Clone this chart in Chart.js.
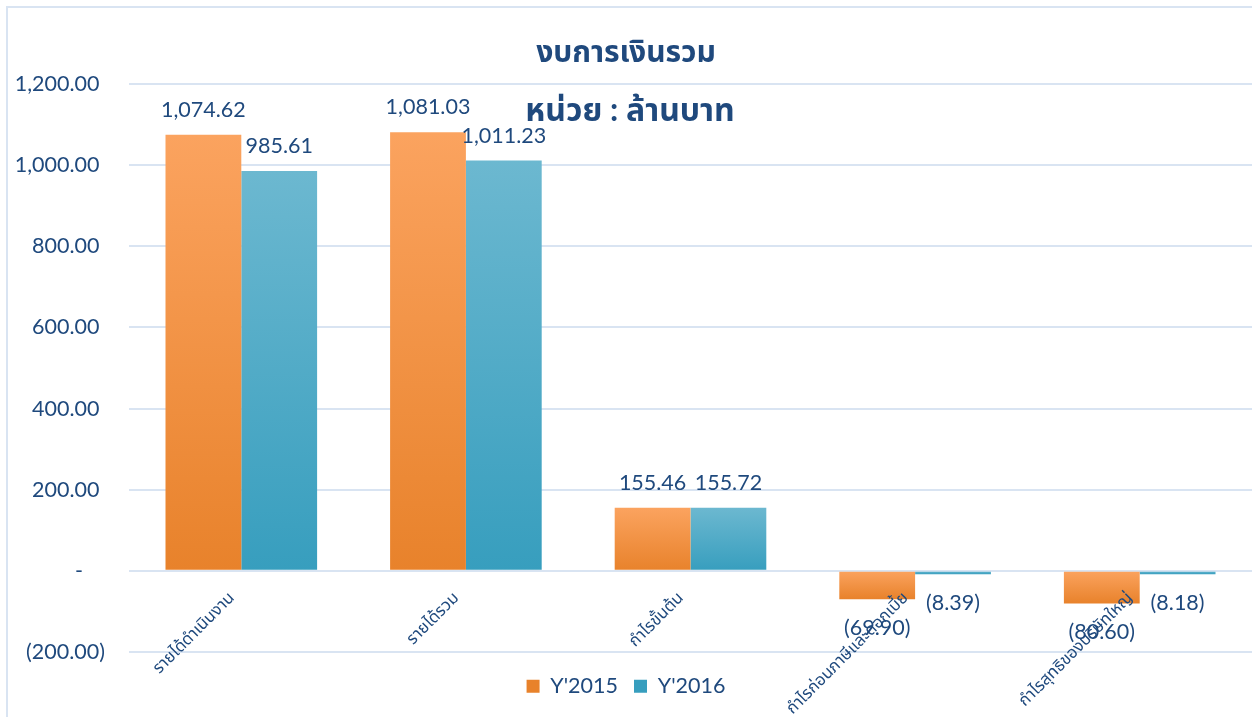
<!DOCTYPE html>
<html>
<head>
<meta charset="utf-8">
<script src="https://cdn.jsdelivr.net/npm/chart.js@4/dist/chart.umd.min.js"></script>
<style>
  html, body { margin: 0; padding: 0; background: #ffffff; overflow: hidden; }
  #wrap { position: relative; width: 1252px; height: 717px; }
</style>
</head>
<body>
<div id="wrap"><canvas id="financeChart"></canvas></div>
<script>
// Chart data (ล้านบาท)
const categories = ['รายได้ดำเนินงาน', 'รายได้รวม', 'กำไรขั้นต้น', 'กำไรก่อนภาษีและดอกเบี้ย', 'กำไรสุทธิของบริษัทใหญ่'];
const seriesNames = ["Y'2015", "Y'2016"];
const values2015 = [1074.62, 1081.03, 155.46, -69.90, -80.60];
const values2016 = [985.61, 1011.23, 155.72, -8.39, -8.18];
const yTicks = [-200, 0, 200, 400, 600, 800, 1000, 1200];

const TEXT = '#1f497d';
const GRID = '#d9e4f2';
const FONT = "Lato, 'Noto Sans Thai', 'Noto Sans', sans-serif";

function fmtNum(v) {
    return Math.abs(v).toLocaleString('en-US', { minimumFractionDigits: 2, maximumFractionDigits: 2 });
}

// accounting style: (x) for negatives
function fmtAccounting(v) {
    if (v < 0) return '(' + fmtNum(v) + ')';
    return fmtNum(v);
}

// vertical gradient from the zero line to the end of each bar
function barGradient(light, dark, mid) {
    return function (ctx) {
        const chart = ctx.chart;
        if (!chart.chartArea || ctx.type !== 'data') return mid;
        const y = chart.scales.y;
        const p0 = y.getPixelForValue(0);
        const p1 = y.getPixelForValue(ctx.raw);
        const top = Math.min(p0, p1);
        const bottom = Math.max(p0, p1) + 0.01;
        const g = chart.ctx.createLinearGradient(0, top, 0, bottom);
        g.addColorStop(0, light);
        g.addColorStop(1, dark);
        return g;
    };
}

// frame lines on the left and top like the original sheet
const framePlugin = {
    id: 'frame',
    beforeDraw(chart) {
        const c = chart.ctx;
        c.save();
        c.strokeStyle = GRID;
        c.lineWidth = 2;
        c.beginPath();
        c.moveTo(7, chart.height);
        c.lineTo(7, 7);
        c.lineTo(chart.width, 7);
        c.stroke();
        c.restore();
    }
};

// value labels above / below bars
const valueLabels = {
    id: 'valueLabels',
    afterDatasetsDraw(chart) {
        const c = chart.ctx;
        c.save();
        c.font = '21.5px ' + FONT;
        c.fillStyle = TEXT;
        c.textAlign = 'center';
        c.textBaseline = 'middle';
        chart.data.datasets.forEach((ds, i) => {
            chart.getDatasetMeta(i).data.forEach((bar, j) => {
                const v = ds.data[j];
                const y = v >= 0 ? bar.y - 25 : bar.y + 29;
                c.fillText(fmtAccounting(v), bar.x, y);
            });
        });
        c.restore();
    }
};

// category labels sit along the zero line, rotated 45°
const categoryLabels = {
    id: 'categoryLabels',
    afterDraw(chart) {
        const c = chart.ctx;
        const x = chart.scales.x;
        const zero = chart.scales.y.getPixelForValue(0);
        c.save();
        c.font = '16.5px ' + FONT;
        c.fillStyle = TEXT;
        c.textAlign = 'right';
        c.textBaseline = 'middle';
        categories.forEach((label, i) => {
            c.save();
            c.translate(x.getPixelForValue(i) - 10, zero + 24);
            c.rotate(-Math.PI / 4);
            c.fillText(label, 0, 0);
            c.restore();
        });
        c.restore();
    }
};

// unit subtitle drawn inside the top of the plot area
const unitLabel = {
    id: 'unitLabel',
    afterDraw(chart) {
        const c = chart.ctx;
        c.save();
        c.font = 'bold 32px ' + FONT;
        c.fillStyle = TEXT;
        c.textAlign = 'center';
        c.textBaseline = 'middle';
        c.fillText('หน่วย : ล้านบาท', chart.width / 2 + 4, chart.chartArea.top + 27);
        c.restore();
    }
};

new Chart(document.getElementById('financeChart'), {
    type: 'bar',
    data: {
        labels: categories,
        datasets: [
            {
                label: seriesNames[0],
                data: values2015,
                backgroundColor: barGradient('#fba35f', '#e8822b', '#f7953f'),
                borderWidth: 0,
                barPercentage: 1,
                categoryPercentage: 0.675
            },
            {
                label: seriesNames[1],
                data: values2016,
                backgroundColor: barGradient('#6cb8d0', '#379ebe', '#4fabc7'),
                borderWidth: 0,
                barPercentage: 1,
                categoryPercentage: 0.675
            }
        ]
    },
    options: {
        responsive: true,
        maintainAspectRatio: false,
        animation: false,
        layout: { padding: { top: 0, bottom: 10, left: 0, right: 0 } },
        plugins: {
            title: {
                display: true,
                text: 'งบการเงินรวม',
                color: TEXT,
                font: { family: FONT, size: 30, weight: 'bold' },
                padding: { top: 34, bottom: 14 }
            },
            legend: {
                display: true,
                position: 'bottom',
                labels: {
                    color: TEXT,
                    font: { family: FONT, size: 21.5 },
                    boxWidth: 13,
                    boxHeight: 13,
                    padding: 16
                }
            },
            tooltip: { enabled: false }
        },
        scales: {
            x: {
                grid: { display: false },
                border: { display: false },
                ticks: { display: false },
                afterFit(scale) { scale.height = 7.5; }
            },
            y: {
                min: -200,
                max: 1200,
                afterBuildTicks(scale) {
                    scale.ticks = yTicks.map(v => ({ value: v }));
                },
                afterFit(scale) { scale.width = 129; },
                grid: { color: GRID, lineWidth: 2, drawTicks: false },
                border: { display: false },
                ticks: {
                    color: TEXT,
                    font: { family: FONT, size: 21.5 },
                    padding: 24,
                    callback(value) {
                        if (value === 0) return '-    ';
                        if (value < 0) return fmtAccounting(value);
                        return fmtAccounting(value) + ' ';
                    }
                }
            }
        }
    },
    plugins: [framePlugin, valueLabels, categoryLabels, unitLabel]
});
</script>
</body>
</html>
